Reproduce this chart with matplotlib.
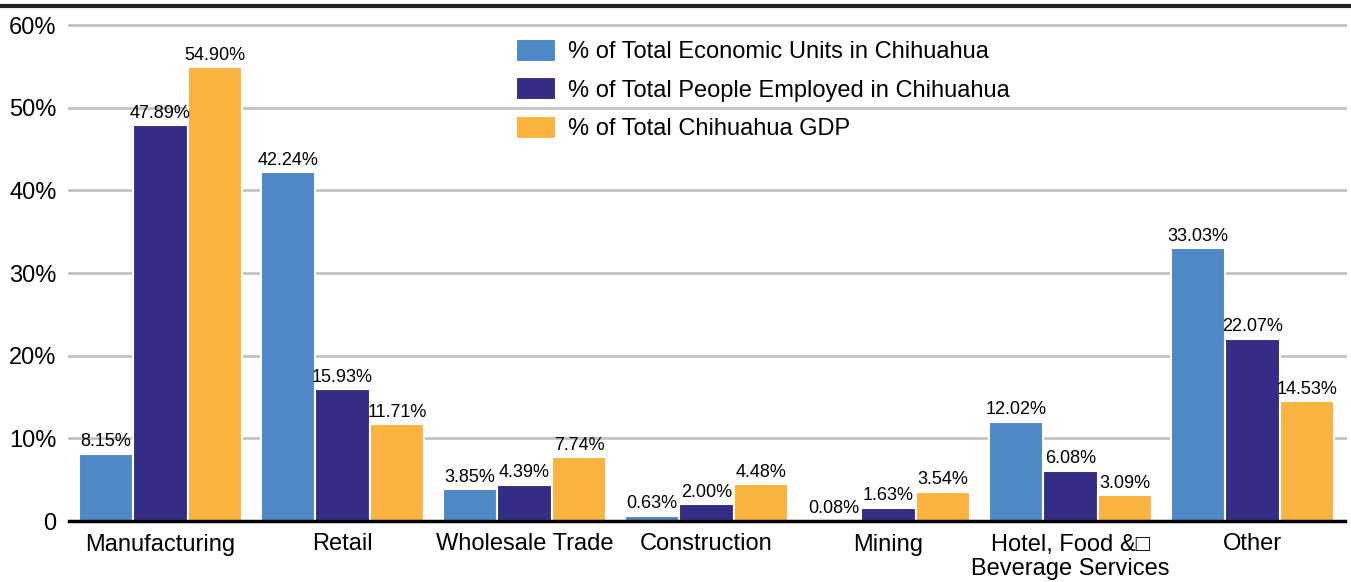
import numpy as np
import matplotlib.pyplot as plt
from matplotlib.lines import Line2D

categories = ["Manufacturing", "Retail", "Wholesale Trade", "Construction",
              "Mining", "Hotel, Food &\u25a1\nBeverage Services", "Other"]
units = [8.15, 42.24, 3.85, 0.63, 0.08, 12.02, 33.03]
employed = [47.89, 15.93, 4.39, 2.00, 1.63, 6.08, 22.07]
gdp = [54.90, 11.71, 7.74, 4.48, 3.54, 3.09, 14.53]
series_names = ["% of Total Economic Units in Chihuahua",
                "% of Total People Employed in Chihuahua",
                "% of Total Chihuahua GDP"]
colors = ["#4F88C7", "#352D85", "#FBB33F"]

plt.rcParams['font.family'] = ['Liberation Sans', 'DejaVu Sans']

fig = plt.figure(figsize=(13.51, 5.82), dpi=100)
ax = fig.add_axes([69 / 1351, 1 - 521 / 582, (1345 - 69) / 1351, (521 - 25) / 582])

x = np.arange(len(categories))
w = 0.3
for i, (vals, name, c) in enumerate(zip([units, employed, gdp], series_names, colors)):
    pos = x + (i - 1) * w
    ax.bar(pos, vals, width=w, color=c, edgecolor="white", linewidth=1.5,
           label=name, zorder=3)
    # value labels above each bar
    for px, v in zip(pos, vals):
        ax.text(px, v + 0.4, f"{v:.2f}%", ha="center", va="bottom",
                fontsize=13, zorder=4)

ax.set_xlim(-0.503, 6.508)
ax.set_ylim(0, 60)
ax.set_yticks(range(0, 61, 10))
ax.set_yticklabels(["0", "10%", "20%", "30%", "40%", "50%", "60%"], fontsize=17)
ax.set_xticks(x)
ax.set_xticklabels(categories, fontsize=17, linespacing=1.15)
ax.tick_params(axis='y', length=0, pad=9)
ax.tick_params(axis='x', length=0, pad=9)

for s in ["top", "right", "left"]:
    ax.spines[s].set_visible(False)
ax.spines["bottom"].set_linewidth(2.5)
ax.spines["bottom"].set_zorder(5)
ax.yaxis.grid(True, color="#C2C2C2", linewidth=2, zorder=0)
for gl in ax.get_ygridlines():
    gl.set_clip_on(False)

ax.legend(loc="upper left", bbox_to_anchor=(0.350, 0.972), frameon=False,
          fontsize=17, handlelength=1.7, handleheight=1.1, labelspacing=0.6,
          handletextpad=0.5, borderaxespad=0, borderpad=0)

# dark rule across the top of the image
fig.add_artist(Line2D([0, 1], [1 - 5.5 / 582, 1 - 5.5 / 582], color="#222222",
                      linewidth=3, transform=fig.transFigure))

fig.savefig("out.png", dpi=100)
